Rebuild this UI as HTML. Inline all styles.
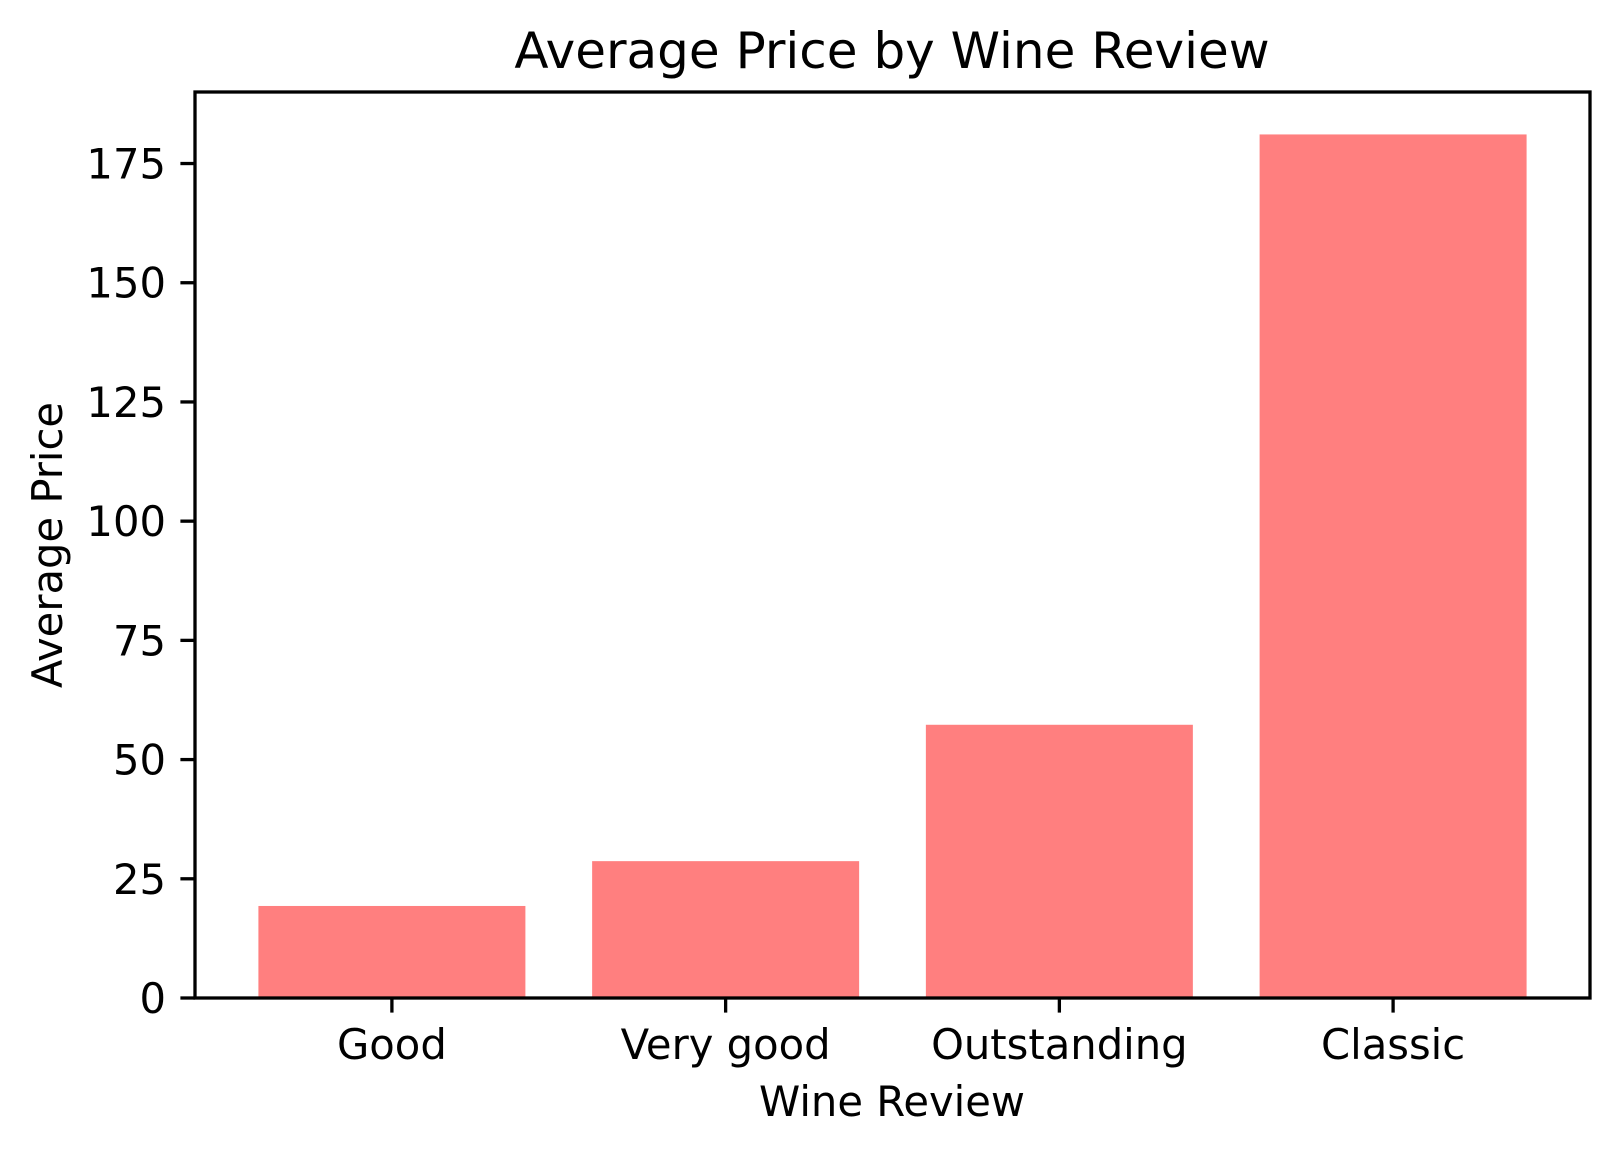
<!DOCTYPE html>
<html><head><meta charset="utf-8"><style>
html,body{margin:0;padding:0;background:#fff;}
svg text{font-family:"DejaVu Sans","Liberation Sans",sans-serif;fill:#000;}
</style></head><body>
<svg id="chart" width="1623" height="1154" xmlns="http://www.w3.org/2000/svg">
<rect width="1623" height="1154" fill="#fff"/>
<g id="bars"></g>
<g id="axes"></g>
<text x="892" y="68" font-size="50" text-anchor="middle">Average Price by Wine Review</text>
<text x="892" y="1116" font-size="41.7" text-anchor="middle">Wine Review</text>
<text transform="translate(62,545) rotate(-90)" font-size="41.7" text-anchor="middle">Average Price</text>
</svg>
<script>
const categories = ["Good","Very good","Outstanding","Classic"];
const values = [19.3, 28.7, 57.3, 181.1];
const yTicks = [0,25,50,75,100,125,150,175];

const L=195,R=1590,T=92,B=998;
const xMin=-0.59,xMax=3.59,yMin=0,yMax=190;
const xs=v=>L+(v-xMin)/(xMax-xMin)*(R-L);
const ys=v=>B-(v-yMin)/(yMax-yMin)*(B-T);
const NS="http://www.w3.org/2000/svg";
function mk(tag,attrs,parent,text){const e=document.createElementNS(NS,tag);for(const k in attrs)e.setAttribute(k,attrs[k]);if(text!==undefined)e.textContent=text;parent.appendChild(e);return e;}
const bars=document.getElementById('bars'),axes=document.getElementById('axes');
values.forEach((v,i)=>{
  const x0=xs(i-0.4),x1=xs(i+0.4);
  const r=mk('rect',{x:x0,y:ys(v),width:x1-x0,height:ys(0)-ys(v),fill:'#ff7f7f'},bars);
  
  
  const t=mk('line',{x1:xs(i),x2:xs(i),y1:B,y2:B+14.6,stroke:'#000','stroke-width':3.3},axes);
  
  
  const l=mk('text',{x:xs(i),y:1059,'font-size':41.7,'text-anchor':'middle'},axes,categories[i]);
  
  
});
yTicks.forEach(v=>{
  const t=mk('line',{x1:L-14.6,x2:L,y1:ys(v),y2:ys(v),stroke:'#000','stroke-width':3.3},axes);
  
  
  const l=mk('text',{x:166,y:ys(v)+15,'font-size':41.7,'text-anchor':'end'},axes,String(v));
  
  
});
const f=mk('rect',{x:L,y:T,width:R-L,height:B-T,fill:'none',stroke:'#000','stroke-width':3.3},axes);


</script>
</body></html>
